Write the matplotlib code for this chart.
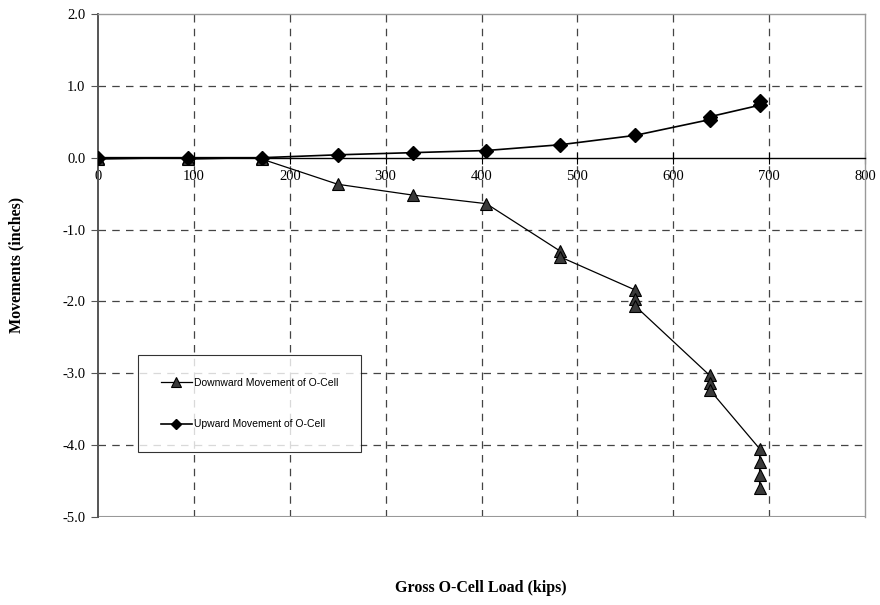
import matplotlib
matplotlib.use("Agg")
import matplotlib.pyplot as plt

# Gross O-Cell load (kips) and movements (inches), repeated readings at same load
down_load = [0, 0, 94, 94, 171, 171, 250, 328, 405, 482, 482,
             560, 560, 560, 638, 638, 638, 690, 690, 690, 690]
down_move = [0.0, -0.02, 0.0, -0.02, 0.0, -0.02, -0.37, -0.52, -0.64, -1.30, -1.38,
             -1.84, -1.96, -2.06, -3.03, -3.13, -3.23, -4.05, -4.24, -4.42, -4.60]

up_load = [0, 94, 171, 250, 328, 405, 482, 560, 638, 638, 690, 690]
up_move = [0.0, 0.0, 0.0, 0.04, 0.07, 0.10, 0.18, 0.31, 0.53, 0.57, 0.73, 0.79]

x_ticks = [0, 100, 200, 300, 400, 500, 600, 700, 800]
y_ticks = [2.0, 1.0, 0.0, -1.0, -2.0, -3.0, -4.0, -5.0]

plt.rcParams["font.family"] = "Liberation Serif"
plt.rcParams["font.size"] = 10.5

fig = plt.figure(figsize=(8.8, 6.05), dpi=100)
ax = fig.add_axes([0.1114, 0.1455, 0.8716, 0.8314])

ax.plot(down_load, down_move, color="black", lw=0.9, marker="^", ms=8.5,
        mfc="#3a3a3a", mec="black", mew=0.8, label="Downward Movement of O-Cell", zorder=3)
ax.plot(up_load, up_move, color="black", lw=1.2, marker="D", ms=7,
        mfc="black", mec="black", label="Upward Movement of O-Cell", zorder=4)

ax.set_xlim(0, 800)
ax.set_ylim(-5, 2)

# dashed grid, but not on the frame lines
for xv in x_ticks[1:-1]:
    ax.axvline(xv, color="#444444", lw=0.9, ls=(0, (6, 5)), zorder=1)
for yv in [1.0, -1.0, -2.0, -3.0, -4.0]:
    ax.axhline(yv, color="#444444", lw=0.9, ls=(0, (6, 5)), zorder=1)

ax.spines["bottom"].set_position(("data", 0))
ax.spines["bottom"].set_color("black")
ax.spines["bottom"].set_linewidth(1.0)
ax.spines["left"].set_color("#555555")
ax.spines["left"].set_linewidth(1.4)
for s in ["top", "right"]:
    ax.spines[s].set_color("#999999")
    ax.spines[s].set_linewidth(1.0)
ax.axhline(-5, color="#999999", lw=1.5, zorder=2)

ax.set_xticks(x_ticks)
ax.set_yticks(y_ticks)
ax.set_xticklabels([str(v) for v in x_ticks])
ax.set_yticklabels([f"{v:.1f}" for v in y_ticks])
ax.tick_params(axis="x", direction="inout", length=8, width=0.8, pad=5, color="black")
ax.tick_params(axis="y", direction="out", length=5, width=0.8, pad=4, color="#555555")

fig.text(0.546, 0.028, "Gross O-Cell Load (kips)", ha="center", va="center",
         fontweight="bold", fontsize=11.5)
fig.text(0.019, 0.562, "Movements (inches)", ha="center", va="center", rotation=90,
         fontweight="bold", fontsize=11.5)

leg = ax.legend(loc="upper left", bbox_to_anchor=(0.052, 0.322), frameon=True,
                fancybox=False, edgecolor="black",
                prop={"family": "Liberation Sans", "size": 7.5},
                handlelength=3.0, handletextpad=0.2, labelspacing=3.0,
                borderpad=2.2, borderaxespad=0, markerscale=0.8)
leg.get_frame().set_linewidth(0.8)

fig.savefig("out.png", dpi=100)
